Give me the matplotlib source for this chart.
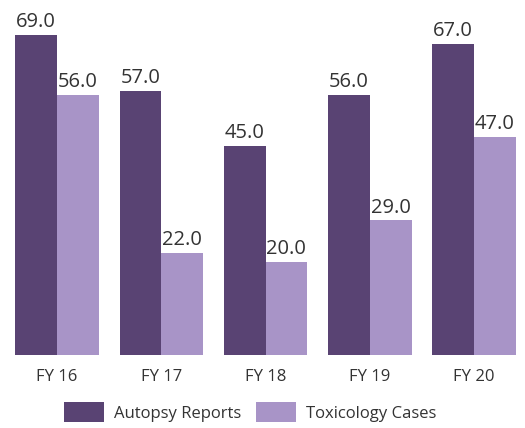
import matplotlib
matplotlib.use("Agg")
import matplotlib.pyplot as plt
import numpy as np

categories = ["FY 16", "FY 17", "FY 18", "FY 19", "FY 20"]
autopsy = [69.0, 57.0, 45.0, 56.0, 67.0]
toxicology = [56.0, 22.0, 20.0, 29.0, 47.0]
series_names = ["Autopsy Reports", "Toxicology Cases"]
colors = ["#594373", "#a894c7"]

plt.rcParams['font.family'] = ['Open Sans', 'DejaVu Sans']

fig = plt.figure(figsize=(5.25, 4.28), dpi=100)
ax = fig.add_axes([10/525, (428-355)/428, 511/525, 335/428])

x = np.arange(len(categories))
w = 0.4
b1 = ax.bar(x - w/2, autopsy, w, color=colors[0], label=series_names[0])
b2 = ax.bar(x + w/2, toxicology, w, color=colors[1], label=series_names[1])

for bars, vals in ((b1, autopsy), (b2, toxicology)):
    for r, v in zip(bars, vals):
        ax.annotate(f"{v:.1f}", (r.get_x() + r.get_width()/2, v),
                    xytext=(0, 2), textcoords="offset points",
                    ha="center", va="bottom", fontsize=14.5, color="#333333")

ax.set_xlim(-0.45, 4.45)
ax.set_ylim(0, 335/4.64)
ax.set_xticks(x)
ax.set_xticklabels(categories, fontsize=12, color="#333333")
ax.tick_params(axis='x', length=0, pad=10)
ax.set_yticks([])
for s in ax.spines.values():
    s.set_visible(False)

fig.legend(handles=[b1, b2], labels=series_names, loc="center",
           bbox_to_anchor=(250/525, (428-412)/428), ncol=2, frameon=False,
           fontsize=12, handlelength=2.4, handleheight=1.4,
           columnspacing=0.9, handletextpad=0.6, labelcolor="#333333")

fig.savefig("out.png", dpi=100)
